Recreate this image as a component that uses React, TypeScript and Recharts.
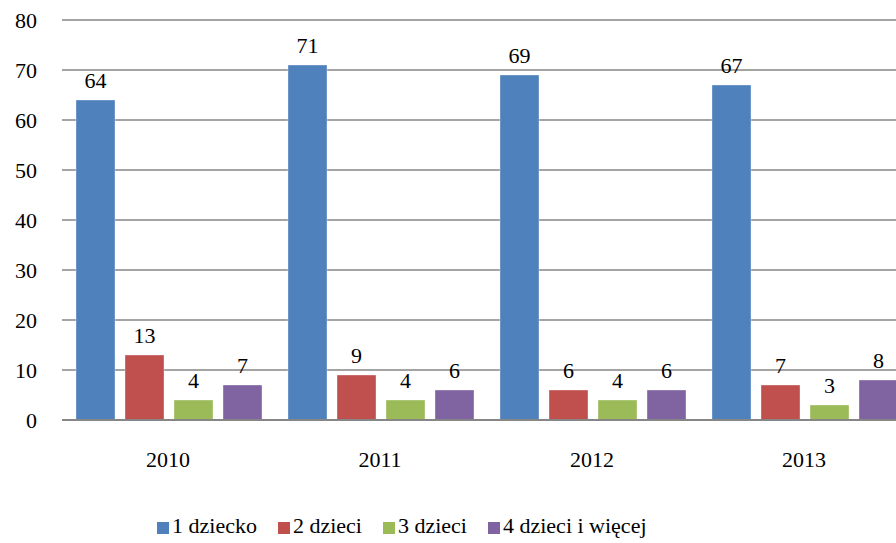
import { Bar, BarChart, CartesianGrid, LabelList, Legend, XAxis, YAxis } from "recharts";

const years = ["2010", "2011", "2012", "2013"];
const oneChild = [64, 71, 69, 67];
const twoChildren = [13, 9, 6, 7];
const threeChildren = [4, 4, 4, 3];
const fourPlus = [7, 6, 6, 8];
const yTicks = [0, 10, 20, 30, 40, 50, 60, 70, 80];

const series = [
  { key: "c1", name: "1 dziecko", color: "#4F81BD", values: oneChild },
  { key: "c2", name: "2 dzieci", color: "#C0504D", values: twoChildren },
  { key: "c3", name: "3 dzieci", color: "#9BBB59", values: threeChildren },
  { key: "c4", name: "4 dzieci i więcej", color: "#8064A2", values: fourPlus },
];

const data = years.map((year, i) => {
  const row: Record<string, string | number> = { year };
  series.forEach((s) => {
    row[s.key] = s.values[i];
  });
  return row;
});

const FONT = "'Times New Roman', 'Liberation Serif', serif";

function renderLegend() {
  return (
    <div style={{ display: "flex", alignItems: "center", fontFamily: FONT, fontSize: 22, color: "#000" }}>
      {series.map((s) => (
        <div key={s.key} style={{ display: "flex", alignItems: "center", marginRight: 21 }}>
          <span style={{ display: "inline-block", width: 12, height: 12, background: s.color, marginRight: 3, marginTop: 4 }} />
          <span>{s.name}</span>
        </div>
      ))}
    </div>
  );
}

export default function App() {
  return (
    <div
      style={{
        position: "fixed",
        left: 0,
        top: 0,
        width: 896,
        height: 543,
        overflow: "hidden",
        background: "#fff",
        fontFamily: FONT,
      }}
    >
      <BarChart
        width={920}
        height={543}
        data={data}
        margin={{ top: 20, right: 10, left: 0, bottom: 0 }}
        barCategoryGap={14}
        barGap={10}
        style={{ fontFamily: FONT }}
      >
        <CartesianGrid vertical={false} stroke="#868686" strokeWidth={1.5} />
        <XAxis
          dataKey="year"
          tickLine={false}
          tickSize={0}
          tickMargin={31}
          height={93}
          axisLine={{ stroke: "#868686", strokeWidth: 2 }}
          tick={{ fill: "#000", fontSize: 22, fontFamily: FONT }}
        />
        <YAxis
          domain={[0, 80]}
          ticks={yTicks}
          width={62}
          axisLine={false}
          tickLine={false}
          tickSize={0}
          tickMargin={25}
          tick={{ fill: "#000", fontSize: 22, fontFamily: FONT }}
        />
        <Legend
          verticalAlign="bottom"
          content={renderLegend}
          wrapperStyle={{ left: 157, top: 513, width: 700, height: 30 }}
        />
        {series.map((s) => (
          <Bar
            key={s.key}
            dataKey={s.key}
            name={s.name}
            fill={s.color}
            stroke="#ffffff"
            strokeOpacity={0.35}
            isAnimationActive={false}
          >
            <LabelList
              dataKey={s.key}
              position="top"
              offset={12}
              fill="#000"
              fontSize={22}
              fontFamily={FONT}
            />
          </Bar>
        ))}
      </BarChart>
    </div>
  );
}
